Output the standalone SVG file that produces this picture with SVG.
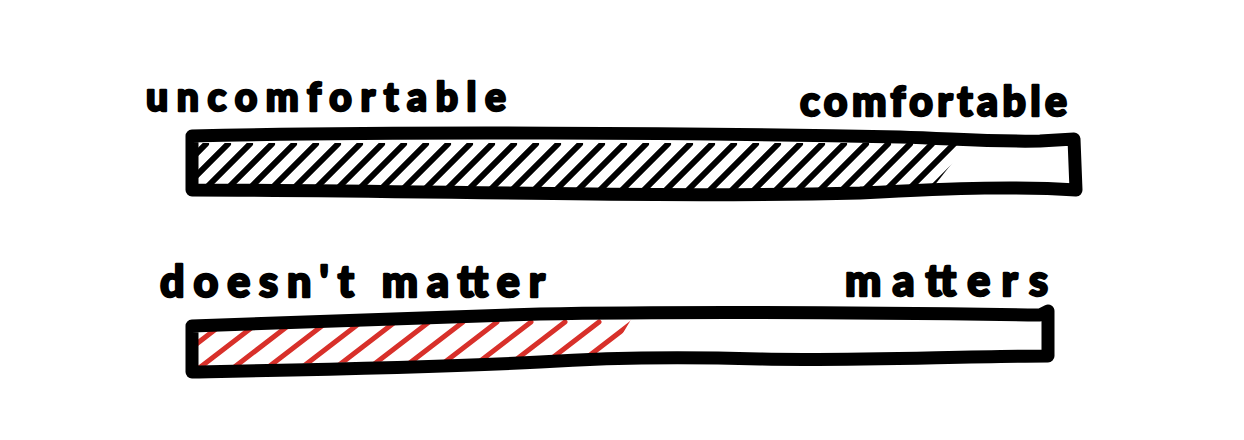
<svg xmlns="http://www.w3.org/2000/svg" width="1244" height="440" viewBox="0 0 1244 440">
<style>
.lbl{font-family:"Lato","Liberation Sans",sans-serif;font-weight:900;fill:#000;stroke:#000;stroke-width:2.4;stroke-linejoin:round}
.bar{fill:none;stroke:#000;stroke-width:13;stroke-linecap:round;stroke-linejoin:round}
.hb{fill:none;stroke:#000;stroke-width:6;stroke-linecap:round}
.hr{fill:none;stroke:#d8302a;stroke-width:5;stroke-linecap:round}
</style>
<defs>
<clipPath id="c1"><path d="M198,143 L968,143 L930,191 L198,191 Z"/></clipPath>
<clipPath id="c2"><path d="M198,330 L540,318 L632,318 L608,358 L540,358 L198,366 Z"/></clipPath>
</defs>
<rect width="1244" height="440" fill="#fff"/>
<g id="label-uncomfortable"><text class="lbl" x="146" y="111" font-size="39" textLength="360" lengthAdjust="spacing">uncomfortable</text></g>
<g id="label-comfortable"><text class="lbl" x="800" y="116" font-size="41" textLength="267" lengthAdjust="spacing">comfortable</text></g>
<g id="label-doesnt-matter"><text class="lbl" x="160" y="297" font-size="43" textLength="385" lengthAdjust="spacing">doesn't matter</text></g>
<g id="label-matters"><text class="lbl" x="845" y="296" font-size="43" textLength="203" lengthAdjust="spacing">matters</text></g>
<g id="bar-comfort">
<path class="hb" clip-path="url(#c1)" d="M160,190 l46,-46 M182,190 l46,-46 M204,190 l46,-46 M226,190 l46,-46 M248,190 l46,-46 M270,190 l46,-46 M292,190 l46,-46 M314,190 l46,-46 M336,190 l46,-46 M358,190 l46,-46 M380,190 l46,-46 M402,190 l46,-46 M424,190 l46,-46 M446,190 l46,-46 M468,190 l46,-46 M490,190 l46,-46 M512,190 l46,-46 M534,190 l46,-46 M556,190 l46,-46 M578,190 l46,-46 M600,190 l46,-46 M622,190 l46,-46 M644,190 l46,-46 M666,190 l46,-46 M688,190 l46,-46 M710,190 l46,-46 M732,190 l46,-46 M754,190 l46,-46 M776,190 l46,-46 M798,190 l46,-46 M820,190 l46,-46 M842,190 l46,-46 M864,190 l46,-46 M886,190 l46,-46 M908,190 l46,-46 M930,190 l46,-46"/>
<path class="bar" d="M192,136 C400,131 700,133 900,137 C960,139 990,142 1040,141 L1074,139 L1076,190 C1020,186 960,188 860,193 C640,198 420,190 192,190 Z"/>
</g>
<g id="bar-matters">
<path class="hr" clip-path="url(#c2)" d="M160,372 l65,-50 M194,372 l65,-50 M228,372 l65,-50 M262,372 l65,-50 M296,372 l65,-50 M330,372 l65,-50 M364,372 l65,-50 M398,372 l65,-50 M432,372 l65,-50 M466,372 l65,-50 M500,372 l65,-50 M534,372 l65,-50 M568,372 l65,-50"/>
<path class="bar" d="M192,326 C320,322 440,318 540,314 C700,311 900,313 1040,315 L1048,311 L1048,356 C960,356 860,361 760,359 C660,356 600,358 540,362 C420,368 300,370 192,372 Z"/>
</g>
</svg>
